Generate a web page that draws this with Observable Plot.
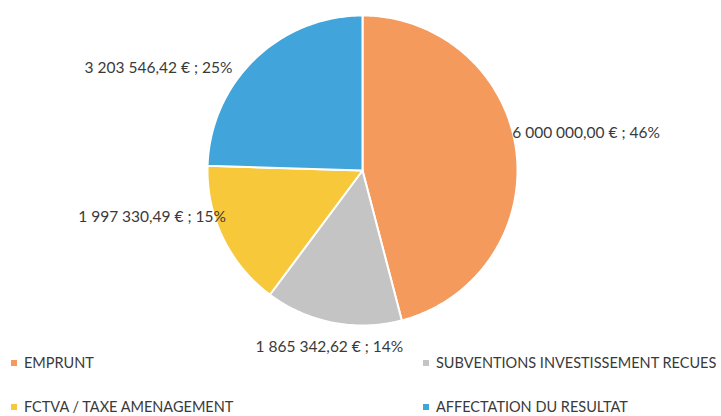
<!DOCTYPE html>
<html>
<head>
<meta charset="utf-8">
<script src="https://cdn.jsdelivr.net/npm/d3@7"></script>
<script src="https://cdn.jsdelivr.net/npm/@observablehq/plot@0.6"></script>
<style>
  html, body { margin: 0; padding: 0; background: #fff; }
  body { width: 721px; height: 416px; overflow: hidden; font-family: Lato, "Open Sans", sans-serif; }
  #chart svg { display: block; }
  .legend { display: grid; grid-template-columns: 412px 300px; row-gap: 24px; padding-left: 11px; }
  .legend .item { height: 20px; line-height: 20px; font-size: 14.5px; color: #3a3a3a; display: flex; align-items: center; white-space: nowrap; }
  .legend .sw { width: 6px; height: 6px; margin-right: 7px; flex: none; }
</style>
</head>
<body>
<div id="chart"></div>
<div class="legend" id="legend"></div>
<script>
// Data
const categories = ["EMPRUNT", "SUBVENTIONS INVESTISSEMENT RECUES", "FCTVA / TAXE AMENAGEMENT", "AFFECTATION DU RESULTAT"];
const values = [6000000.00, 1865342.62, 1997330.49, 3203546.42];
const labels = ["6 000 000,00 € ; 46%", "1 865 342,62 € ; 14%", "1 997 330,49 € ; 15%", "3 203 546,42 € ; 25%"];
const colors = ["#F39A5C", "#C4C4C4", "#F6C83A", "#41A4DA"];

// Label styling (offsets, anchors) – layout only
const labelStyle = [
  {r: 1.0, anchor: "start", dx: -4, dy: -18},
  {r: 1.12, anchor: "middle", dx: 0, dy: 6},
  {r: 1.0, anchor: "end", dx: 3, dy: -21},
  {r: 1.03, anchor: "end", dx: -19, dy: 12}
];

const cx = 362, cy = 170, R = 155;
const W = 721, H = 353;

const arcs = d3.pie().sort(null).value(d => d)(values);

// Build slice polygons in unit-circle data space
const slicePts = [];
arcs.forEach((a, i) => {
  const n = Math.max(8, Math.ceil((a.endAngle - a.startAngle) / (Math.PI / 180)));
  slicePts.push({k: i, x: 0, y: 0});
  for (let j = 0; j <= n; j++) {
    const t = a.startAngle + (a.endAngle - a.startAngle) * j / n;
    slicePts.push({k: i, x: Math.sin(t), y: Math.cos(t)});
  }
  slicePts.push({k: i, x: 0, y: 0});
});

const labelData = arcs.map((a, i) => {
  const m = (a.startAngle + a.endAngle) / 2;
  const s = labelStyle[i];
  return {i, text: labels[i], x: Math.sin(m) * s.r, y: Math.cos(m) * s.r};
});

const marks = [
  Plot.line(slicePts, {x: "x", y: "y", z: "k", fill: d => colors[d.k], stroke: "white", strokeWidth: 2, strokeLinejoin: "round", curve: "linear"})
];
labelData.forEach((d, i) => {
  const s = labelStyle[i];
  marks.push(Plot.text([d], {x: "x", y: "y", text: "text", textAnchor: s.anchor, dx: s.dx, dy: s.dy, fontSize: 15.5, fill: "#3a3a3a", fontFamily: "Lato, 'Open Sans', sans-serif"}));
});

const plot = Plot.plot({
  width: W,
  height: H,
  margin: 0,
  x: {domain: [-1, 1], range: [cx - R, cx + R], axis: null},
  y: {domain: [-1, 1], range: [cy + R, cy - R], axis: null},
  style: {background: "white", overflow: "visible"},
  marks
});
document.getElementById("chart").appendChild(plot);

// Legend
const leg = document.getElementById("legend");
categories.forEach((c, i) => {
  const it = document.createElement("div");
  it.className = "item";
  const sw = document.createElement("span");
  sw.className = "sw";
  sw.style.background = colors[i];
  it.appendChild(sw);
  it.appendChild(document.createTextNode(c));
  leg.appendChild(it);
});
</script>
</body>
</html>
